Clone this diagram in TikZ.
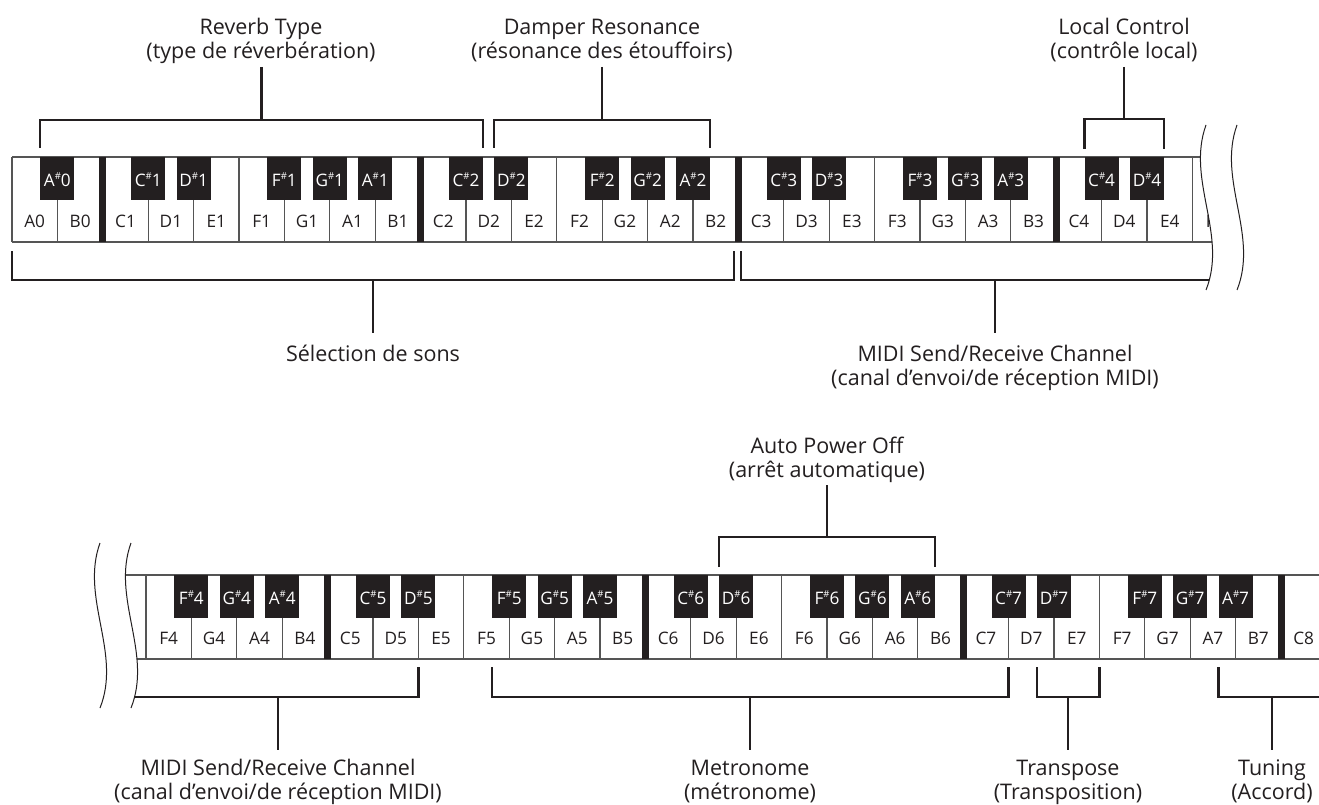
\documentclass[tikz,border=0pt]{standalone}
\usepackage{fontspec}
\setmainfont{Open Sans}
\definecolor{ink}{HTML}{231F20}
\definecolor{keygray}{HTML}{555555}
\newcommand{\sh}{\raisebox{0.40em}{\fontsize{9.5}{9.5}\selectfont\#}}
\newcommand{\twoline}[2]{\begin{tabular}[t]{@{}c@{}}#1\\#2\end{tabular}}
\tikzset{
 keyline/.style={draw=keygray, line width=1.3pt},
 bracket/.style={draw=ink, line width=2.6pt},
 wave/.style={draw=ink, line width=1pt},
 blackkey/.style={fill=ink},
 octbar/.style={fill=ink},
 wlabel/.style={inner sep=0pt, anchor=base, text=ink, font=\fontsize{17.2}{18}\selectfont},
 blabel/.style={inner sep=0pt, anchor=base, text=white, font=\fontsize{17.2}{18}\selectfont},
 caption/.style={inner sep=0pt, anchor=base, text=ink, font=\fontsize{21.5}{24}\selectfont},
}
\begin{document}
\begin{tikzpicture}[x=1pt,y=-1pt]
\useasboundingbox (0,0) rectangle (1319,805);
\fill[white] (0,0) rectangle (1319,805);

% ---------------- top keyboard ----------------
\begin{scope}
\clip (0,100) -- (1206,100) -- (1206,125) .. controls (1186,180) and (1228,235) .. (1206,290) -- (1206,300) -- (0,300) -- cycle;
\draw[keyline] (12,157) -- (1240,157) (12,242) -- (1240,242);
\foreach \i in {0,...,27} \draw[keyline] ({12+45.4*\i},157) -- ({12+45.4*\i},242);
\foreach \i in {2,9,16,23} \fill[octbar] ({12+45.4*\i-3.5},157) rectangle ({12+45.4*\i+3.5},242);
\foreach \b/\t in {1/A\sh0,3/C\sh1,4/D\sh1,6/F\sh1,7/G\sh1,8/A\sh1,10/C\sh2,11/D\sh2,13/F\sh2,14/G\sh2,15/A\sh2,17/C\sh3,18/D\sh3,20/F\sh3,21/G\sh3,22/A\sh3,24/C\sh4,25/D\sh4}{
  \fill[blackkey] ({12+45.4*\b-17},157) rectangle ({12+45.4*\b+17},200);
  \node[blabel] (tb\b) at ({12+45.4*\b},186) {\t};
}
\foreach \i/\t in {0/A0,1/B0,2/C1,3/D1,4/E1,5/F1,6/G1,7/A1,8/B1,9/C2,10/D2,11/E2,12/F2,13/G2,14/A2,15/B2,16/C3,17/D3,18/E3,19/F3,20/G3,21/A3,22/B3,23/C4,24/D4,25/E4,26/F4}
  \node[wlabel] (tw\i) at ({12+45.4*\i+22.7},227) {\t};
% MIDI (top) bracket, cut by the break line
\coordinate (miaL) at (741,251);
\coordinate (miaR) at (1240,280);
\draw[bracket] (miaL) |- (miaR);
\end{scope}

% ---------------- bottom keyboard ----------------
\begin{scope}
\clip (131,520) -- (131,543) .. controls (111,598) and (153,653) .. (131,708) -- (131,720) -- (1319,720) -- (1319,520) -- cycle;
\draw[keyline] (110,575) -- (1330,575) (110,659) -- (1330,659);
\foreach \i in {-1,...,25} \draw[keyline] ({146+45.4*\i},575) -- ({146+45.4*\i},659);
\foreach \i in {4,11,18,25} \fill[octbar] ({146+45.4*\i-3.5},575) rectangle ({146+45.4*\i+3.5},659);
\foreach \b/\t in {1/F\sh4,2/G\sh4,3/A\sh4,5/C\sh5,6/D\sh5,8/F\sh5,9/G\sh5,10/A\sh5,12/C\sh6,13/D\sh6,15/F\sh6,16/G\sh6,17/A\sh6,19/C\sh7,20/D\sh7,22/F\sh7,23/G\sh7,24/A\sh7}{
  \fill[blackkey] ({146+45.4*\b-17},575) rectangle ({146+45.4*\b+17},618);
  \node[blabel] (bb\b) at ({146+45.4*\b},604) {\t};
}
\foreach \i/\t in {0/F4,1/G4,2/A4,3/B4,4/C5,5/D5,6/E5,7/F5,8/G5,9/A5,10/B5,11/C6,12/D6,13/E6,14/F6,15/G6,16/A6,17/B6,18/C7,19/D7,20/E7,21/F7,22/G7,23/A7,24/B7,25/C8}
  \node[wlabel] (bw\i) at ({146+45.4*\i+22.7},644) {\t};
% MIDI (bottom) bracket, cut by the break line
\coordinate (mibL) at (100,697);
\coordinate (mibR) at (418.4,667);
\draw[bracket] (mibL) -| (mibR);
% Tuning bracket, running off the right edge
\coordinate (tunL) at (1218.6,667);
\coordinate (tunR) at (1330,697);
\draw[bracket] (tunL) |- (tunR);
\end{scope}

% ---------------- break lines ----------------
\draw[wave] (1206,125) .. controls (1186,180) and (1228,235) .. (1206,290);
\draw[wave] (1237,125) .. controls (1217,180) and (1259,235) .. (1237,290);
\draw[wave] (100,543) .. controls (80,598) and (122,653) .. (100,708);
\draw[wave] (131,543) .. controls (111,598) and (153,653) .. (131,708);

% ---------------- captions (placed at the first baseline) ----------------
\node[caption] (capRev) at (261,35) {\twoline{Reverb Type}{(type de réverbération)}};
\node[caption] (capDamp) at (602,35) {\twoline{Damper Resonance}{(résonance des étouffoirs)}};
\node[caption] (capLoc) at (1124,35) {\twoline{Local Control}{(contrôle local)}};
\node[caption] (capSel) at (373,361) {Sélection de sons};
\node[caption] (capMidiA) at (995,361) {\twoline{MIDI Send/Receive Channel}{(canal d’envoi/de réception MIDI)}};
\node[caption] (capAuto) at (827,453) {\twoline{Auto Power Off}{(arrêt automatique)}};
\node[caption] (capMidiB) at (278,775) {\twoline{MIDI Send/Receive Channel}{(canal d’envoi/de réception MIDI)}};
\node[caption] (capMet) at (750,775) {\twoline{Metronome}{(métronome)}};
\node[caption] (capTr) at (1068,775) {\twoline{Transpose}{(Transposition)}};
\node[caption] (capTun) at (1272,775) {\twoline{Tuning}{(Accord)}};

% ---------------- brackets above the keys ----------------
\coordinate (revL) at (40,148);   \coordinate (revR) at (483,148);
\coordinate (revT) at (261.5,67); \coordinate (revM) at (261.5,120);
\draw[bracket] (revL) |- (revM) -| (revR);
\draw[bracket] (revT) -- (revM);

\coordinate (damL) at (494,148);  \coordinate (damR) at (710,148);
\coordinate (damT) at (602,67);   \coordinate (damM) at (602,120);
\draw[bracket] (damL) |- (damM) -| (damR);
\draw[bracket] (damT) -- (damM);

\coordinate (locL) at (1084.6,149); \coordinate (locR) at (1164,149);
\coordinate (locT) at (1124,67);    \coordinate (locM) at (1124,119);
\draw[bracket] (locL) |- (locM) -| (locR);
\draw[bracket] (locT) -- (locM);

\coordinate (autL) at (719,567);  \coordinate (autR) at (935,567);
\coordinate (autT) at (827,485);  \coordinate (autM) at (827,537);
\draw[bracket] (autL) |- (autM) -| (autR);
\draw[bracket] (autT) -- (autM);

% ---------------- brackets below the keys ----------------
\coordinate (selL) at (12,251);   \coordinate (selR) at (734,251);
\coordinate (selM) at (373,280);  \coordinate (selB) at (373,333);
\draw[bracket] (selL) |- (selM) -| (selR);
\draw[bracket] (selM) -- (selB);

\coordinate (miaM) at (995,280);  \coordinate (miaB) at (995,333);
\draw[bracket] (miaM) -- (miaB);

\coordinate (mibM) at (278,697);  \coordinate (mibB) at (278,750);
\draw[bracket] (mibM) -- (mibB);

\coordinate (metL) at (492,667);  \coordinate (metR) at (1008.6,667);
\coordinate (metM) at (750,697);  \coordinate (metB) at (750,750);
\draw[bracket] (metL) |- (metM) -| (metR);
\draw[bracket] (metM) -- (metB);

\coordinate (traL) at (1037,667); \coordinate (traR) at (1099.4,667);
\coordinate (traM) at (1068,697); \coordinate (traB) at (1068,750);
\draw[bracket] (traL) |- (traM) -| (traR);
\draw[bracket] (traM) -- (traB);

\coordinate (tunM) at (1272,697); \coordinate (tunB) at (1272,750);
\draw[bracket] (tunM) -- (tunB);
\end{tikzpicture}
\end{document}
